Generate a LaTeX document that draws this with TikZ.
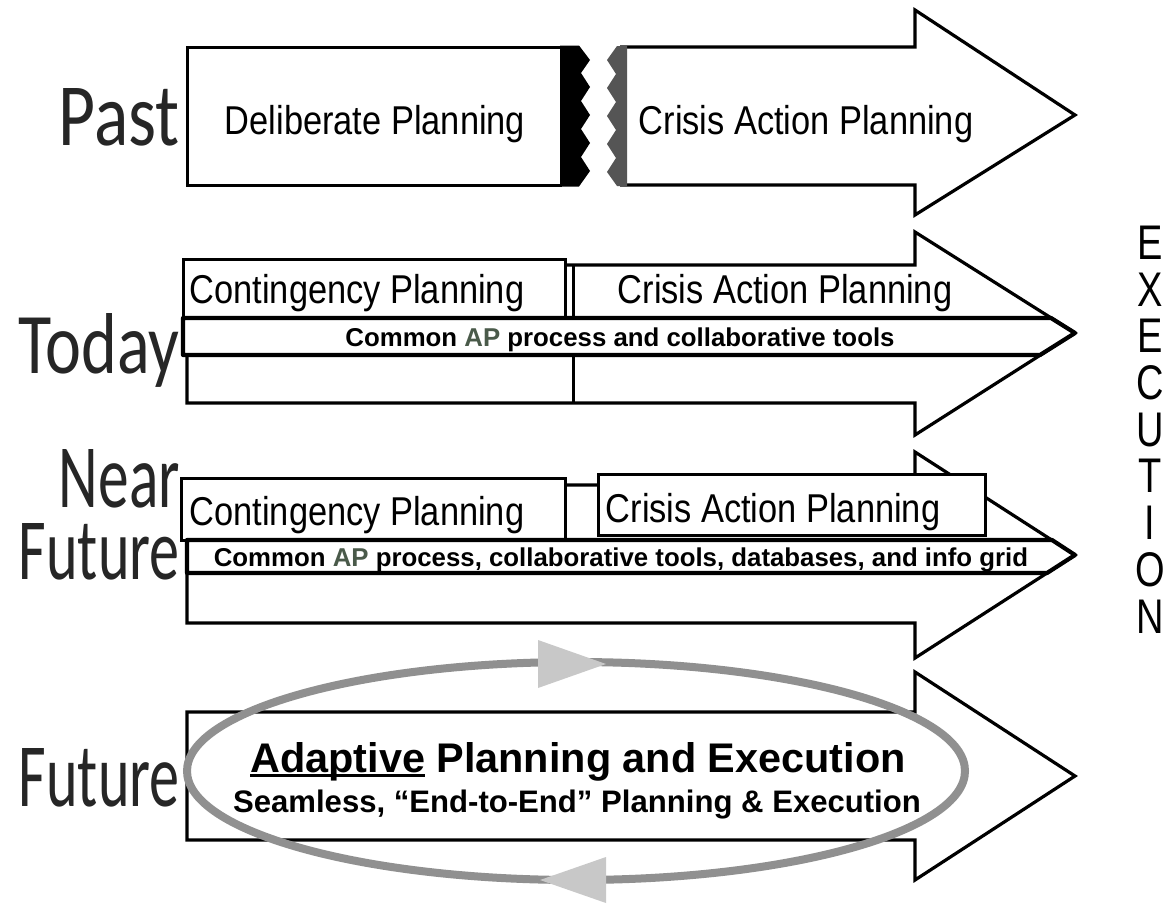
\documentclass[tikz,border=0pt]{standalone}
\usepackage{fontspec}
\usepackage{graphicx}
\setmainfont{Liberation Sans}
\newfontfamily\lblfont{Carlito}
\definecolor{lblgray}{HTML}{262626}
\definecolor{tornGray}{HTML}{555555}
\definecolor{ellGray}{HTML}{909090}
\definecolor{tipGray}{HTML}{C8C8C8}
\definecolor{apGray}{HTML}{4A5A4A}
\newcommand\thickul[1]{\setbox0\hbox{#1}\rlap{\rule[-5pt]{\wd0}{2.6pt}}\box0\relax}
\tikzset{
  outl/.style={draw=black, line width=3.2pt, fill=white, line join=miter},
  boxs/.style={draw=black, line width=3pt, fill=white},
  bandline/.style={draw=black, line width=4.2pt, fill=white, line join=round},
  txt/.style={inner sep=0pt, anchor=base, font=\fontsize{34.4}{40}\selectfont},
  bandtxt/.style={inner sep=0pt, anchor=base, font=\bfseries\fontsize{25.8}{30}\selectfont},
  lbl/.style={inner sep=0pt, anchor=base east, text=lblgray, font=\lblfont\fontsize{60}{60}\selectfont},
}
\begin{document}
\begin{tikzpicture}[x=1pt, y=-1pt]
\useasboundingbox[fill=white] (0,0) rectangle (1176,903);

% ---------------- Row 1: Past ----------------
\draw[outl] (620,47) -- (915,47) -- (915,10) -- (1075,115) -- (915,215) -- (915,185) -- (620,185);
\fill[tornGray] (617,46) -- (627,46) -- (627,186) -- (617,186) -- (607,172) -- (616,158) -- (607,144) -- (616,130) -- (607,116) -- (616,102) -- (607,88) -- (616,74) -- (607,60) -- cycle;
\filldraw[boxs] (562,47) -- (187,47) -- (187,185) -- (562,185);
\fill[black] (560,45.5) -- (579,45.5) -- (590,60) -- (581,73) -- (590,87) -- (581,101) -- (590,115) -- (581,129) -- (590,143) -- (581,157) -- (590,171) -- (579,186.5) -- (560,186.5) -- cycle;
\node[lbl] (past) at (180,145) {\resizebox{121pt}{57pt}{Past}};
\node[txt] (delib) at (375,134) {\scalebox{1}[1.17]{Deliberate Planning}};
\node[txt] (cap1) at (806,134) {\scalebox{1}[1.17]{Crisis Action Planning}};

% ---------------- Row 2: Today ----------------
\draw[outl] (187,265) -- (915,265) -- (915,232) -- (1075,333) -- (915,435) -- (915,403) -- (187,403) -- cycle;
\draw[boxs] (573,265) -- (573,403);
\draw[boxs] (183,259) rectangle (565,318);
\draw[bandline] (183,318) -- (1051,318) -- (1075,333) -- (1040,355) -- (183,355) -- cycle;
\node[lbl] (today) at (180,373) {\resizebox{161pt}{60pt}{Today}};
\node[txt] (cont2) at (357,303) {\scalebox{1}[1.17]{Contingency Planning}};
\node[txt] (cap2) at (785,303) {\scalebox{1}[1.17]{Crisis Action Planning}};
\node[bandtxt] (band2) at (620,346) {Common \textcolor{apGray}{AP} process and collaborative tools};

% ---------------- Row 3: Near Future ----------------
\draw[outl] (187,485) -- (915,485) -- (915,452) -- (1075,555) -- (915,658) -- (915,623) -- (187,623) -- cycle;
\draw[boxs] (181,478) rectangle (565,540);
\draw[boxs] (598,474) rectangle (985,535);
\draw[bandline] (187,540) -- (1052,540) -- (1075,555) -- (1047,573) -- (187,573) -- cycle;
\node[lbl, anchor=north east, align=right, font=\lblfont\fontsize{60}{72}\selectfont] (nearfuture) at (180,449)
  {\resizebox{121pt}{58pt}{Near}\\\resizebox{161pt}{56pt}{Future}};
\node[txt] (cont3) at (357,525) {\scalebox{1}[1.17]{Contingency Planning}};
\node[txt] (cap3) at (773,522) {\scalebox{1}[1.17]{Crisis Action Planning}};
\node[bandtxt] (band3) at (621,566) {Common \textcolor{apGray}{AP} process, collaborative tools, databases, and info grid};

% ---------------- Row 4: Future ----------------
\draw[outl] (187,712) -- (915,712) -- (915,672) -- (1075,776) -- (915,880) -- (915,840) -- (187,840) -- cycle;
\draw[ellGray, line width=8pt] (576,771) ellipse [x radius=389pt, y radius=109pt];
\fill[tipGray] (538,640) -- (606,664) -- (538,688) -- cycle;
\fill[tipGray] (540,880) -- (606,857) -- (606,903) -- cycle;
\node[lbl] (future) at (180,806) {\resizebox{161pt}{58pt}{Future}};
\node[inner sep=0pt, anchor=base, font=\bfseries\fontsize{41.4}{48}\selectfont] (adapt) at (578,772) {\thickul{Adaptive} Planning and Execution};
\node[inner sep=0pt, anchor=base, font=\bfseries\fontsize{31.1}{36}\selectfont] (seam) at (577,812) {Seamless, “End-to-End” Planning \& Execution};

% ---------------- EXECUTION ----------------
\node[inner sep=0pt, anchor=north, font=\fontsize{38}{34.1}\selectfont] (exec) at (1150,226)
  {\scalebox{1}[1.28]{\begin{tabular}{@{}c@{}}E\\X\\E\\C\\U\\T\\I\\O\\N\end{tabular}}};
\end{tikzpicture}
\end{document}
